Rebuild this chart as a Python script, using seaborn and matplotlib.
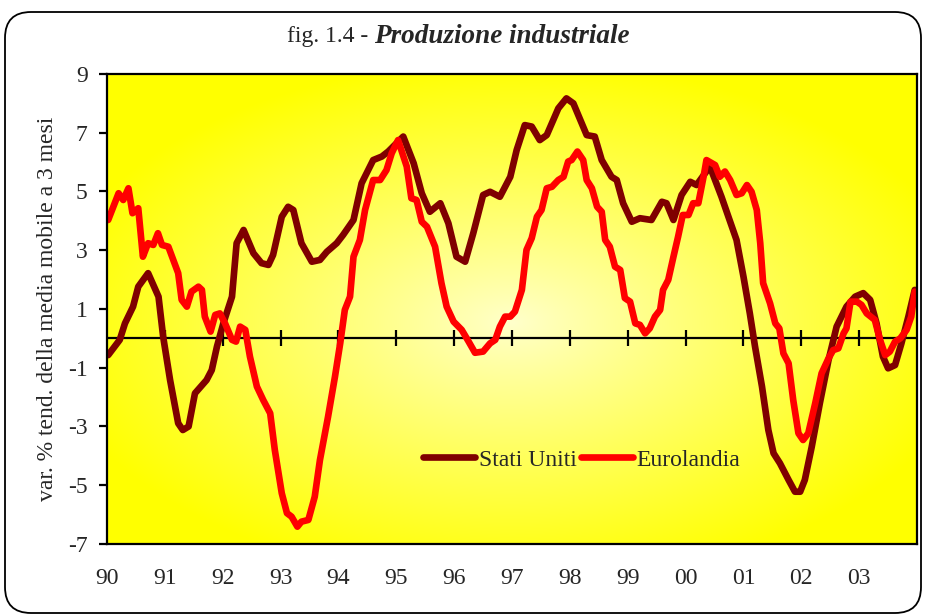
import numpy as np
import pandas as pd
import matplotlib
matplotlib.use("Agg")
import matplotlib.pyplot as plt
import seaborn as sns
from matplotlib.patches import FancyBboxPatch
from matplotlib.transforms import IdentityTransform

# Dati (anno decimale, variazione %)
usa_x = [1990.02, 1990.22, 1990.31, 1990.45, 1990.54, 1990.71, 1990.89, 1990.97, 1991.09, 1991.23,
         1991.31, 1991.41, 1991.52, 1991.72, 1991.81, 1991.90, 1992.01, 1992.16, 1992.24, 1992.36,
         1992.53, 1992.67, 1992.79, 1992.87, 1993.02, 1993.13, 1993.22, 1993.36, 1993.54, 1993.68,
         1993.80, 1993.97, 1994.08, 1994.26, 1994.40, 1994.60, 1994.75, 1994.86, 1995.12, 1995.30,
         1995.44, 1995.58, 1995.76, 1995.90, 1996.04, 1996.19, 1996.33, 1996.50, 1996.62, 1996.79,
         1996.97, 1997.08, 1997.22, 1997.34, 1997.48, 1997.60, 1997.80, 1997.94, 1998.06, 1998.29,
         1998.43, 1998.55, 1998.72, 1998.81, 1998.92, 1999.07, 1999.21, 1999.41, 1999.59, 1999.67,
         1999.79, 1999.93, 2000.08, 2000.19, 2000.42, 2000.62, 2000.74, 2000.88, 2001.00, 2001.11,
         2001.20, 2001.32, 2001.43, 2001.52, 2001.63, 2001.78, 2001.89, 2001.98, 2002.06, 2002.18,
         2002.32, 2002.47, 2002.61, 2002.78, 2002.93, 2003.07, 2003.19, 2003.30, 2003.41, 2003.50,
         2003.62, 2003.73, 2003.85, 2003.96]
usa_y = [-0.57, -0.05, 0.51, 1.08, 1.76, 2.22, 1.42, 0.06, -1.42, -2.89,
         -3.12, -3.00, -1.87, -1.42, -1.08, -0.28, 0.51, 1.42, 3.24, 3.69,
         2.90, 2.56, 2.50, 2.84, 4.14, 4.48, 4.37, 3.24, 2.61, 2.67,
         2.95, 3.24, 3.52, 4.03, 5.28, 6.07, 6.19, 6.36, 6.87, 5.96,
         4.94, 4.31, 4.60, 3.92, 2.78, 2.61, 3.58, 4.88, 4.99, 4.82,
         5.50, 6.41, 7.26, 7.21, 6.75, 6.92, 7.83, 8.17, 8.00, 6.92,
         6.87, 6.07, 5.50, 5.39, 4.60, 3.97, 4.09, 4.03, 4.65, 4.60,
         4.03, 4.88, 5.33, 5.22, 5.85, 4.82, 4.14, 3.35, 2.10, 0.85,
         -0.28, -1.64, -3.12, -3.91, -4.25, -4.82, -5.22, -5.22, -4.82, -3.69,
         -2.21, -0.74, 0.40, 1.08, 1.42, 1.54, 1.31, 0.51, -0.62, -1.02,
         -0.91, -0.17, 0.74, 1.65]

euro_x = [1990.02, 1990.11, 1990.20, 1990.28, 1990.37, 1990.44, 1990.54, 1990.62, 1990.71, 1990.80,
          1990.88, 1990.95, 1991.06, 1991.23, 1991.29, 1991.38, 1991.46, 1991.58, 1991.64, 1991.69,
          1991.79, 1991.87, 1991.95, 1992.04, 1992.16, 1992.23, 1992.30, 1992.39, 1992.47, 1992.59,
          1992.70, 1992.82, 1992.90, 1993.02, 1993.11, 1993.19, 1993.29, 1993.36, 1993.48, 1993.59,
          1993.68, 1993.82, 1993.94, 1994.03, 1994.11, 1994.20, 1994.26, 1994.37, 1994.46, 1994.60,
          1994.72, 1994.83, 1994.92, 1995.03, 1995.18, 1995.26, 1995.35, 1995.44, 1995.53, 1995.67,
          1995.78, 1995.87, 1995.99, 1996.13, 1996.25, 1996.36, 1996.50, 1996.62, 1996.71, 1996.79,
          1996.88, 1996.97, 1997.05, 1997.17, 1997.25, 1997.34, 1997.43, 1997.51, 1997.60, 1997.69,
          1997.80, 1997.89, 1997.97, 1998.03, 1998.13, 1998.23, 1998.29, 1998.38, 1998.47, 1998.55,
          1998.61, 1998.69, 1998.78, 1998.87, 1998.95, 1999.04, 1999.13, 1999.21, 1999.30, 1999.38,
          1999.47, 1999.56, 1999.61, 1999.70, 1999.79, 1999.87, 1999.95, 2000.05, 2000.13, 2000.22,
          2000.31, 2000.36, 2000.51, 2000.59, 2000.68, 2000.77, 2000.88, 2000.97, 2001.06, 2001.14,
          2001.23, 2001.29, 2001.34, 2001.46, 2001.55, 2001.62, 2001.69, 2001.78, 2001.86, 2001.95,
          2002.03, 2002.12, 2002.24, 2002.35, 2002.47, 2002.55, 2002.64, 2002.73, 2002.78, 2002.85,
          2002.96, 2003.04, 2003.13, 2003.27, 2003.36, 2003.45, 2003.53, 2003.62, 2003.71, 2003.82,
          2003.90, 2003.96]
euro_y = [4.03, 4.48, 4.94, 4.71, 5.11, 4.26, 4.43, 2.78, 3.24, 3.18,
          3.58, 3.18, 3.12, 2.22, 1.31, 1.08, 1.59, 1.76, 1.65, 0.74,
          0.23, 0.80, 0.85, 0.51, -0.05, -0.11, 0.40, 0.29, -0.62, -1.64,
          -2.10, -2.55, -3.80, -5.27, -5.95, -6.07, -6.41, -6.24, -6.18, -5.39,
          -4.14, -2.67, -1.30, -0.17, 0.97, 1.42, 2.78, 3.35, 4.37, 5.39,
          5.39, 5.73, 6.30, 6.75, 5.85, 4.77, 4.71, 3.97, 3.80, 3.12,
          1.88, 1.08, 0.57, 0.29, -0.11, -0.49, -0.45, -0.17, -0.05, 0.40,
          0.74, 0.74, 0.91, 1.65, 3.01, 3.41, 4.14, 4.37, 5.11, 5.16,
          5.39, 5.50, 6.02, 6.07, 6.36, 6.07, 5.39, 5.11, 4.48, 4.31,
          3.35, 3.12, 2.44, 2.33, 1.37, 1.25, 0.51, 0.46, 0.17, 0.34,
          0.74, 0.97, 1.65, 1.99, 2.78, 3.46, 4.20, 4.20, 4.60, 4.60,
          5.50, 6.07, 5.90, 5.50, 5.68, 5.39, 4.88, 4.94, 5.22, 4.99,
          4.37, 3.24, 1.88, 1.19, 0.51, 0.34, -0.51, -0.85, -2.10, -3.23,
          -3.46, -3.23, -2.21, -1.19, -0.68, -0.40, -0.34, 0.17, 0.34, 1.25,
          1.25, 1.14, 0.85, 0.63, -0.05, -0.57, -0.45, -0.11, 0.00, 0.29,
          0.74, 1.59]

anni = list(range(1990, 2004))
etichette_anni = ["90", "91", "92", "93", "94", "95", "96", "97", "98", "99",
                  "00", "01", "02", "03"]
y_ticks = [-7, -5, -3, -1, 1, 3, 5, 7, 9]

df = pd.concat([
    pd.DataFrame({"anno": usa_x, "valore": usa_y, "serie": "Stati Uniti"}),
    pd.DataFrame({"anno": euro_x, "valore": euro_y, "serie": "Eurolandia"}),
], ignore_index=True)

sns.set_style("white")
plt.rcParams["font.family"] = ["Liberation Serif", "DejaVu Serif"]
plt.rcParams["axes.unicode_minus"] = False

fig = plt.figure(figsize=(9.25, 6.14), dpi=100)
fig.patch.set_facecolor("white")

# cornice arrotondata
cornice = FancyBboxPatch((5, 1), 916, 601, boxstyle="round,pad=0,rounding_size=26",
                         transform=IdentityTransform(), facecolor="none",
                         edgecolor="black", linewidth=1.3)
fig.patches.append(cornice)

ax = fig.add_axes([0.1157, 0.114, 0.8757, 0.7655])

# sfondo sfumato giallo (radiale)
gx, gy = np.meshgrid(np.linspace(0, 1, 400), np.linspace(0, 1, 300))
r = np.sqrt(((gx - 0.5) / 0.58) ** 2 + ((gy - 0.47) / 0.56) ** 2)
t = np.clip(r, 0, 1) ** 0.9
blu = 0.80 * (1 - t)
img = np.dstack([np.ones_like(t), np.ones_like(t), blu])
ax.imshow(img, extent=[0, 1, 0, 1], transform=ax.transAxes, aspect="auto",
          origin="lower", zorder=0)

palette = {"Stati Uniti": "#7f0000", "Eurolandia": "#ff0000"}
sns.lineplot(data=df, x="anno", y="valore", hue="serie", palette=palette,
             estimator=None, sort=False, linewidth=4.8, ax=ax, zorder=3,
             solid_capstyle="round", solid_joinstyle="round")

ax.axhline(0, color="black", linewidth=1.6, zorder=2)
ax.plot(anni[1:], [0] * len(anni[1:]), linestyle="none", marker="|",
        markersize=11, markeredgewidth=1.6, color="black", zorder=2)

ax.set_xlim(1990, 2004)
ax.set_ylim(-7, 9)
ax.set_xticks(anni)
ax.set_xticklabels(etichette_anni)
ax.set_yticks(y_ticks)
ax.tick_params(axis="x", length=0, pad=17, labelsize=17)
ax.tick_params(axis="y", left=True, length=6, width=1.6, direction="out",
               pad=8, labelsize=17, color="black")
for s in ax.spines.values():
    s.set_visible(True)
    s.set_color("black")
    s.set_linewidth(1.6)
    s.set_zorder(4)

ax.set_xlabel("")
ax.set_ylabel("var. % tend. della media mobile a 3 mesi", fontsize=17, labelpad=7)

handles, labels = ax.get_legend_handles_labels()
ax.legend(handles, labels, loc="center", bbox_to_anchor=(0.586, 0.179), ncol=2,
          frameon=False, fontsize=17, handlelength=2.2, handletextpad=0.15,
          columnspacing=0.2)

fig.text(0.404, 0.940, "fig. 1.4 - ", ha="right", va="center", fontsize=17)
fig.text(0.404, 0.940, "Produzione industriale", ha="left", va="center",
         fontsize=19.5, fontweight="bold", fontstyle="italic")

fig.savefig("out.png", dpi=100)
